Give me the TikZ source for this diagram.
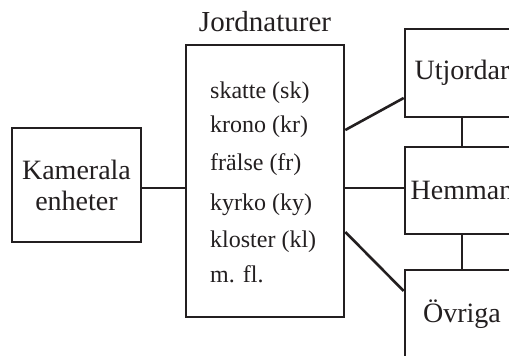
\documentclass[tikz,border=0pt]{standalone}
\usepackage{fontspec}
\setmainfont{Liberation Serif}
\definecolor{ink}{HTML}{231F20}
\begin{document}
\begin{tikzpicture}[x=1pt,y=-1pt,
  box/.style={draw=ink,line width=2.6pt,minimum width=#1,inner sep=0pt},
  big/.style={font=\fontsize{28}{31}\selectfont,text=ink},
  item/.style={font=\fontsize{24}{26}\selectfont,text=ink,anchor=base west,inner sep=0pt},
  conn/.style={draw=ink,line width=2.6pt}]
\clip (0,0) rectangle (509,356);
\fill[white] (0,0) rectangle (509,356);
% boxes
\node[box=129pt,minimum height=114pt,big,align=center] (kam) at (76.5,185) {Kamerala\\enheter};
\node[box=158pt,minimum height=272pt] (jord) at (265,181) {};
\node[big,anchor=base,inner sep=0pt,font=\fontsize{29}{31}\selectfont] (title) at (265,31) {Jordnaturer};
\node[box=114pt,minimum height=88pt,big] (utj) at (462,73) {Utjordar};
\node[box=114pt,minimum height=87pt,big] (hem) at (462,190.5) {Hemman};
\node[box=114pt,minimum height=88pt,big] (ovr) at (462,314) {Övriga};
% items
\node[item] (i1) at (210,98) {skatte (sk)};
\node[item] (i2) at (210,132) {krono (kr)};
\node[item] (i3) at (210,170) {frälse (fr)};
\node[item] (i4) at (210,210) {kyrko (ky)};
\node[item] (i5) at (210,247) {kloster (kl)};
\node[item] (i6) at (210,282) {m. fl.};
% connector heights
\coordinate (ymid) at (0,188);
\coordinate (yup1) at (0,130);
\coordinate (yup2) at (0,98);
\coordinate (ylo1) at (0,232);
\coordinate (ylo2) at (0,291);
\draw[conn] (kam.east |- ymid) -- (jord.west |- ymid);
\draw[conn] (jord.east |- ymid) -- (hem.west |- ymid);
\draw[conn] (jord.east |- yup1) -- (utj.west |- yup2);
\draw[conn] (jord.east |- ylo1) -- (ovr.west |- ylo2);
\draw[conn] (utj.south) -- (hem.north);
\draw[conn] (hem.south) -- (ovr.north);
\end{tikzpicture}
\end{document}
